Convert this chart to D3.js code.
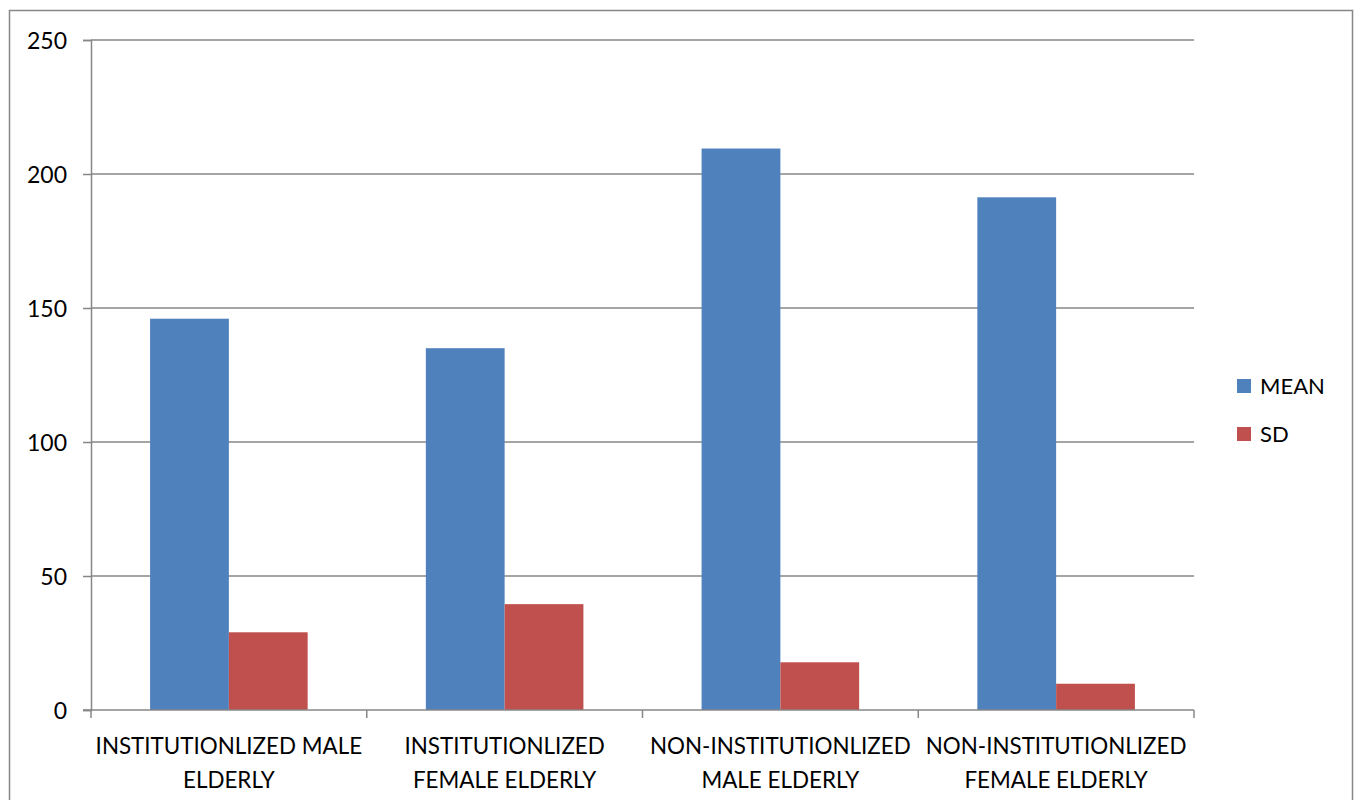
<!DOCTYPE html>
<html>
<head>
<meta charset="utf-8">
<script src="https://cdn.jsdelivr.net/npm/d3@7"></script>
<style>
  html, body { margin: 0; padding: 0; background: #fff; }
  svg text { font-family: Lato, "Open Sans", sans-serif; fill: #000; }
</style>
</head>
<body>
<svg id="chart" width="1359" height="800"></svg>
<script>
// Group labels (two lines each) and the two plotted series
const categories = [
  ["INSTITUTIONLIZED MALE", "ELDERLY"],
  ["INSTITUTIONLIZED", "FEMALE ELDERLY"],
  ["NON-INSTITUTIONLIZED", "MALE ELDERLY"],
  ["NON-INSTITUTIONLIZED", "FEMALE ELDERLY"]
];
const seriesNames = ["MEAN", "SD"];
const meanValues = [146, 135, 209.5, 191.3];
const sdValues = [29, 39.5, 17.8, 9.8];
const yTicks = [0, 50, 100, 150, 200, 250];

const colors = { MEAN: "#4F81BD", SD: "#C0504D" };
const gridColor = "#878787";

const svg = d3.select("#chart");
const plot = { left: 91, right: 1194, top: 40, bottom: 710 };

// Outer chart frame
svg.append("rect")
  .attr("x", 9.5).attr("y", 10.5)
  .attr("width", 1343).attr("height", 800)
  .attr("fill", "none").attr("stroke", gridColor).attr("stroke-width", 1.5);

const catIdx = categories.map((_, i) => i);
const x0 = d3.scaleBand().domain(catIdx).range([plot.left, plot.right]).paddingInner(0).paddingOuter(0);
// gap width 150% of a bar: each side pad = 0.75 bar
const x1 = d3.scaleBand().domain(seriesNames).range([0, x0.bandwidth()])
  .paddingInner(0).paddingOuter(0.75);
const y = d3.scaleLinear().domain([0, 250]).range([plot.bottom, plot.top]);

// Horizontal gridlines
svg.append("g").selectAll("line").data(yTicks.filter(t => t > 0)).join("line")
  .attr("x1", plot.left).attr("x2", plot.right)
  .attr("y1", d => y(d)).attr("y2", d => y(d))
  .attr("stroke", gridColor).attr("stroke-width", 1.5);

// Bars
const rows = catIdx.map(i => ({ i, vals: [
  { key: "MEAN", v: meanValues[i] },
  { key: "SD", v: sdValues[i] }
]}));
const groups = svg.append("g").selectAll("g").data(rows).join("g")
  .attr("transform", d => `translate(${x0(d.i)},0)`);
groups.selectAll("rect").data(d => d.vals).join("rect")
  .attr("x", d => x1(d.key))
  .attr("y", d => y(d.v))
  .attr("width", x1.bandwidth())
  .attr("height", d => y(0) - y(d.v))
  .attr("fill", d => colors[d.key]);

// Y axis
const yAxis = d3.axisLeft(y).tickValues(yTicks).tickSize(8).tickPadding(16);
const gy = svg.append("g").attr("transform", `translate(${plot.left},0)`).call(yAxis);
gy.select(".domain").attr("stroke", gridColor).attr("stroke-width", 1.5);
gy.selectAll(".tick line").attr("stroke", gridColor).attr("stroke-width", 1.5);
gy.selectAll(".tick text").attr("font-size", 23).attr("font-family", "Lato, sans-serif")
  .attr("dy", "0.36em");

// X axis baseline with ticks at category boundaries
const gx = svg.append("g");
gx.append("line")
  .attr("x1", plot.left - 8).attr("x2", plot.right)
  .attr("y1", plot.bottom).attr("y2", plot.bottom)
  .attr("stroke", gridColor).attr("stroke-width", 1.5);
const bounds = catIdx.map(i => x0(i)).concat([x0(catIdx.length - 1) + x0.bandwidth()]);
gx.selectAll("line.tk").data(bounds).join("line").attr("class", "tk")
  .attr("x1", d => d).attr("x2", d => d)
  .attr("y1", plot.bottom).attr("y2", plot.bottom + 8)
  .attr("stroke", gridColor).attr("stroke-width", 1.5);

// Category labels
const lab = gx.selectAll("text.cat").data(rows).join("text").attr("class", "cat")
  .attr("text-anchor", "middle").attr("font-size", 22.4);
lab.selectAll("tspan").data(d => categories[d.i].map(s => ({ s, i: d.i }))).join("tspan")
  .attr("x", d => x0(d.i) + x0.bandwidth() / 2)
  .attr("y", (d, k) => 754 + k * 34)
  .text(d => d.s);

// Legend
const legend = svg.append("g").selectAll("g").data(seriesNames).join("g")
  .attr("transform", (d, i) => `translate(1237,${379 + i * 48})`);
legend.append("rect").attr("width", 14).attr("height", 14).attr("fill", d => colors[d]);
legend.append("text").attr("x", 23).attr("y", 15).attr("font-size", 22).text(d => d);
</script>
</body>
</html>
